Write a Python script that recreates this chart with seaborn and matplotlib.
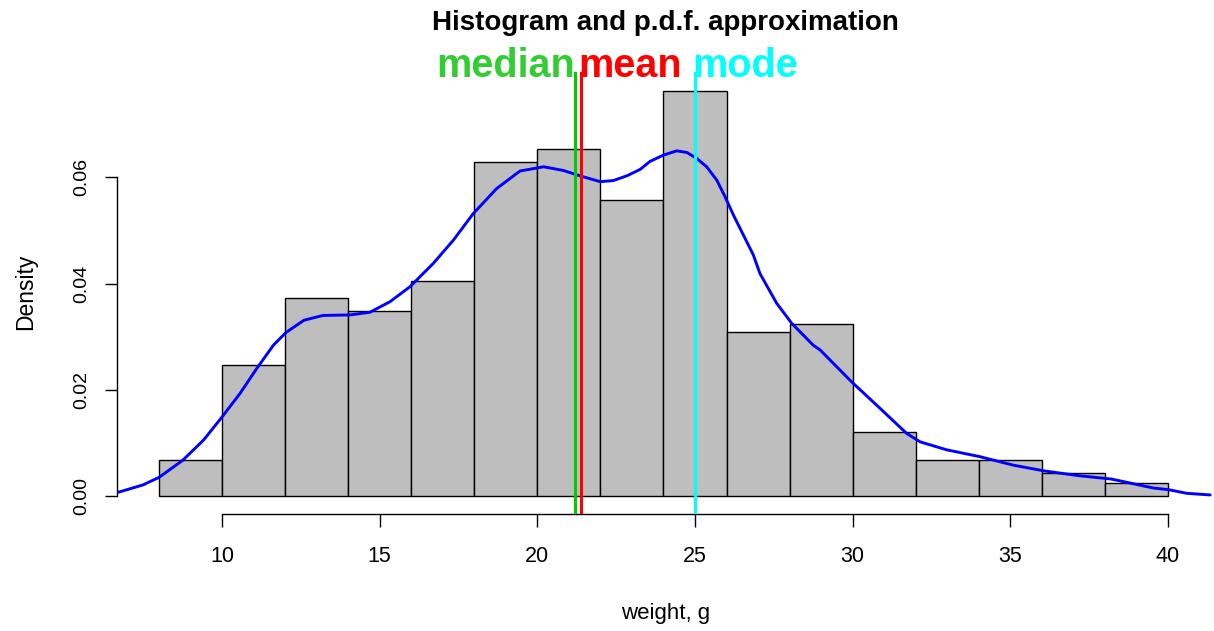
import matplotlib
matplotlib.use("Agg")
import matplotlib.pyplot as plt
import matplotlib.transforms as mtransforms
import numpy as np
import seaborn as sns

# Histogram: bin edges (g) and density per bin
bin_edges = [8, 10, 12, 14, 16, 18, 20, 22, 24, 26, 28, 30, 32, 34, 36, 38, 40]
bin_density = [0.0068, 0.0246, 0.0373, 0.0348, 0.0405, 0.0629, 0.0653, 0.0557,
               0.0763, 0.0309, 0.0323, 0.0120, 0.0067, 0.0067, 0.0043, 0.0024]

# Smoothed p.d.f. estimate
pdf_x = [6.71, 7.50, 8.0, 8.75, 9.41, 9.99, 10.57, 11.10, 11.63, 12.03, 12.6, 13.2,
         14.06, 14.69, 15.33, 15.96, 16.70, 17.34, 17.97, 18.71, 19.45, 20.2, 20.83,
         21.35, 21.99, 22.41, 22.84, 23.26, 23.57, 24.0, 24.42, 24.74, 25.05, 25.37,
         25.69, 25.95, 26.22, 26.53, 26.85, 27.06, 27.59, 28.07, 28.75, 28.97, 29.95,
         30.87, 31.71, 32.14, 32.98, 34.04, 35.10, 36.10, 37.21, 38.2, 39.54, 40.01,
         40.60, 41.34]
pdf_y = [0.0007, 0.0021, 0.0035, 0.0067, 0.0105, 0.0148, 0.0193, 0.0240, 0.0284, 0.0308,
         0.0331, 0.0340, 0.0341, 0.0346, 0.0366, 0.0394, 0.0438, 0.0482, 0.0532, 0.0579,
         0.0612, 0.0620, 0.0613, 0.0603, 0.0592, 0.0594, 0.0603, 0.0615, 0.0630, 0.0642,
         0.0650, 0.0647, 0.0636, 0.0620, 0.0595, 0.0564, 0.0529, 0.0492, 0.0454, 0.0419,
         0.0363, 0.0325, 0.0284, 0.0275, 0.0216, 0.0165, 0.0118, 0.0102, 0.0087, 0.0074,
         0.0058, 0.0047, 0.0038, 0.0032, 0.0015, 0.0012, 0.0005, 0.0002]

# Summary statistics
stat_names = ["median", "mean", "mode"]
stat_values = [21.2, 21.4, 25.0]
stat_line_colors = ["#00CD00", "#FF0000", "#00FFFF"]
stat_text_colors = ["#32CD32", "#FF0000", "#00FFFF"]
stat_align = ["right", "left", "left"]

x_ticks = [10, 15, 20, 25, 30, 35, 40]
y_ticks = [0.00, 0.02, 0.04, 0.06]

sns.set_theme(style="white")
plt.rcParams["font.family"] = ["Liberation Sans", "DejaVu Sans"]

W, H = 1214, 631
fig = plt.figure(figsize=(W / 100, H / 100), dpi=100)
ax = fig.add_axes([117 / W, 1 - 514 / H, (W - 117) / W, (514 - 72) / H])

centers = [(a + b) / 2 for a, b in zip(bin_edges[:-1], bin_edges[1:])]
sns.histplot(x=centers, weights=bin_density, bins=bin_edges, stat="count",
             color="#BEBEBE", alpha=1.0, edgecolor="black", linewidth=1.0, ax=ax)

sns.lineplot(x=pdf_x, y=pdf_y, color="#0000FF", linewidth=2.1, ax=ax,
             estimator=None, sort=False)

for val, lc in zip(stat_values, stat_line_colors):
    ax.axvline(val, color=lc, linewidth=2.2, zorder=5)

ax.set_xlim(6.67, 41.46)
ax.set_ylim(-0.00339, 0.07985)

# R-style axes: lines span only the tick range
for side in ["top", "right"]:
    ax.spines[side].set_visible(False)
ax.spines["left"].set_bounds(0, 0.06)
ax.spines["bottom"].set_bounds(10, 40)
for side in ["left", "bottom"]:
    ax.spines[side].set_color("black")
    ax.spines[side].set_linewidth(1.0)

ax.set_xticks(x_ticks)
ax.set_xticklabels([str(t) for t in x_ticks], fontsize=15.5, color="black")
ax.set_yticks(y_ticks)
ax.set_yticklabels([f"{t:.2f}" for t in y_ticks], fontsize=14, rotation=90,
                   va="center", color="black")
ax.tick_params(axis="x", direction="out", length=9, width=1, color="black", pad=14)
ax.tick_params(axis="y", direction="out", length=9, width=1, color="black", pad=10)
ax.tick_params(bottom=True, left=True)
ax.set_xlabel("")
ax.set_ylabel("")
ax.grid(False)

cx = (117 + W) / 2 / W
fig.text(cx, 1 - 30 / H, "Histogram and p.d.f. approximation", ha="center",
         va="baseline", fontsize=20, fontweight="bold", color="black")
fig.text(cx, 1 - 614 / H, "weight, g", ha="center", va="center", fontsize=16,
         color="black")
fig.text(26 / W, 1 - 292 / H, "Density", ha="center", va="center", rotation=90,
         fontsize=16.5, color="black")

base = mtransforms.blended_transform_factory(ax.transData, fig.transFigure)
for name, val, tc, al in zip(stat_names, stat_values, stat_text_colors, stat_align):
    shift = -3 if al == "left" else 0
    trans = base + mtransforms.ScaledTranslation(shift / 100, 0, fig.dpi_scale_trans)
    fig.text(val, 1 - 77 / H, name, transform=trans, ha=al, va="baseline",
             fontsize=28.5, fontweight="bold", color=tc)

fig.savefig("out.png", dpi=100)
